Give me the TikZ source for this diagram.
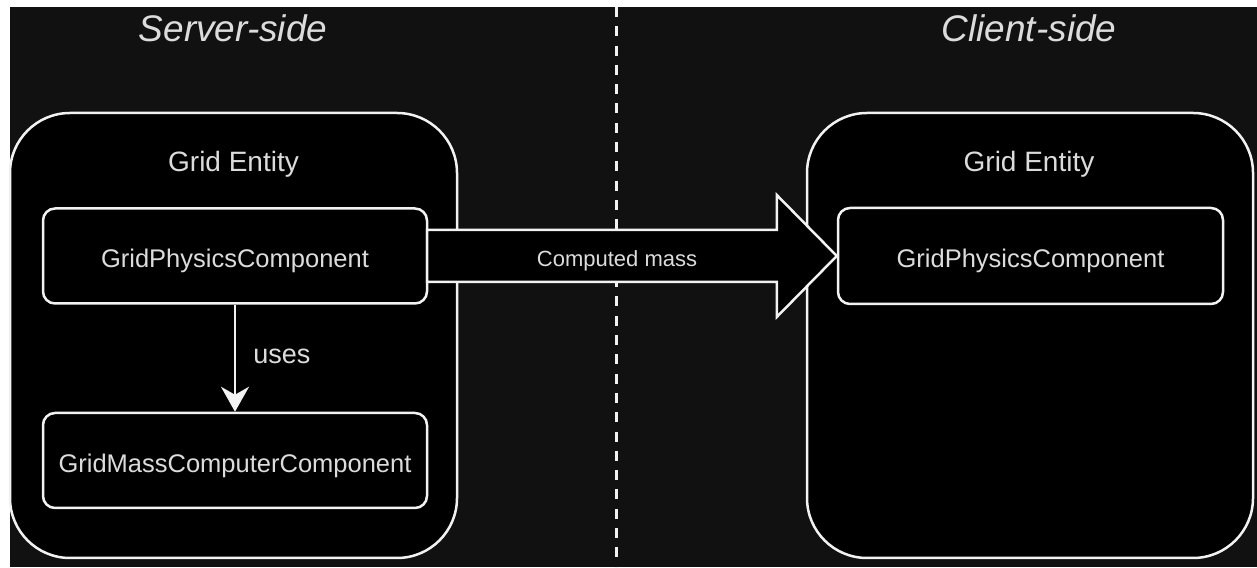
\documentclass[tikz,border=0pt]{standalone}
\usepackage{fontspec}
\setmainfont{Liberation Sans}
\usetikzlibrary{arrows.meta,calc}
\definecolor{bgdark}{HTML}{111111}
\definecolor{txt}{HTML}{DCDCDC}
\definecolor{ln}{HTML}{F2F2F2}
\tikzset{
  entity/.style={draw=ln, fill=black, line width=2.5pt, rounded corners=60pt, inner sep=0pt},
  comp/.style={draw=ln, fill=black, line width=2.5pt, rounded corners=12pt, inner sep=0pt,
    minimum width=384pt, minimum height=95pt, text height=24pt, text depth=0pt,
    text=txt, font=\fontsize{25.5}{30}\selectfont},
  sidetitle/.style={text=txt, inner sep=0pt, anchor=base, font=\fontsize{37}{44}\selectfont\itshape},
  enttitle/.style={text=txt, inner sep=0pt, anchor=base, font=\fontsize{28}{34}\selectfont},
  lbl/.style={text=txt, inner sep=0pt, font=\fontsize{27}{32}\selectfont},
  blockarr/.style={draw=ln, fill=black, line width=2.5pt, line join=miter},
  usesarr/.style={draw=ln, line width=2.5pt, -{Stealth[length=25pt,width=28pt,inset=8pt]}},
  divider/.style={draw=ln, line width=3pt, dash pattern=on 10pt off 9.3pt}
}
\begin{document}
\begin{tikzpicture}[x=1pt,y=1pt]
\useasboundingbox (0,0) rectangle (1257,567);
\fill[white] (0,0) rectangle (1257,567);
\fill[bgdark] (10,0) rectangle (1257,560);
% divider
\coordinate (dtop) at (616,560);
\coordinate (dbot) at (616,0);
\draw[divider] (dtop) -- (dbot);
% titles
\node[sidetitle] (ttl1) at (233,525) {Server-side};
\node[sidetitle] (ttl2) at (1029,525) {Client-side};
% entities
\node[entity, minimum width=447pt, minimum height=445pt] (ent1) at (233.5,231.5) {};
\node[entity, minimum width=446pt, minimum height=445pt] (ent2) at (1030,231.5) {};
\node[enttitle] (et1) at (233.5,395) {Grid Entity};
\node[enttitle] (et2) at (1029,395) {Grid Entity};
% components
\node[comp] (gp1) at (235,311) {GridPhysicsComponent};
\node[comp] (gm) at (235,106.5) {GridMassComputerComponent};
\node[comp, minimum width=385pt, minimum height=96pt] (gp2) at (1030.5,311) {GridPhysicsComponent};
% uses arrow
\draw[usesarr] (gp1) -- (gm) node[lbl, midway, anchor=base west, xshift=17pt, yshift=-5pt] (uses) {uses};
% block arrow
\draw[blockarr] ($(gp1.east)+(-1.25,26)$) -- ($(gp2.west)+(-60,26)$) -- ($(gp2.west)+(-60,61)$)
  -- (gp2.west) -- ($(gp2.west)+(-60,-61)$) -- ($(gp2.west)+(-60,-26)$)
  -- ($(gp1.east)+(-1.25,-26)$) -- cycle;
\node[text=txt, inner sep=0pt, anchor=base, font=\fontsize{22}{26}\selectfont] (cm) at (617,300) {Computed mass};
\end{tikzpicture}
\end{document}
